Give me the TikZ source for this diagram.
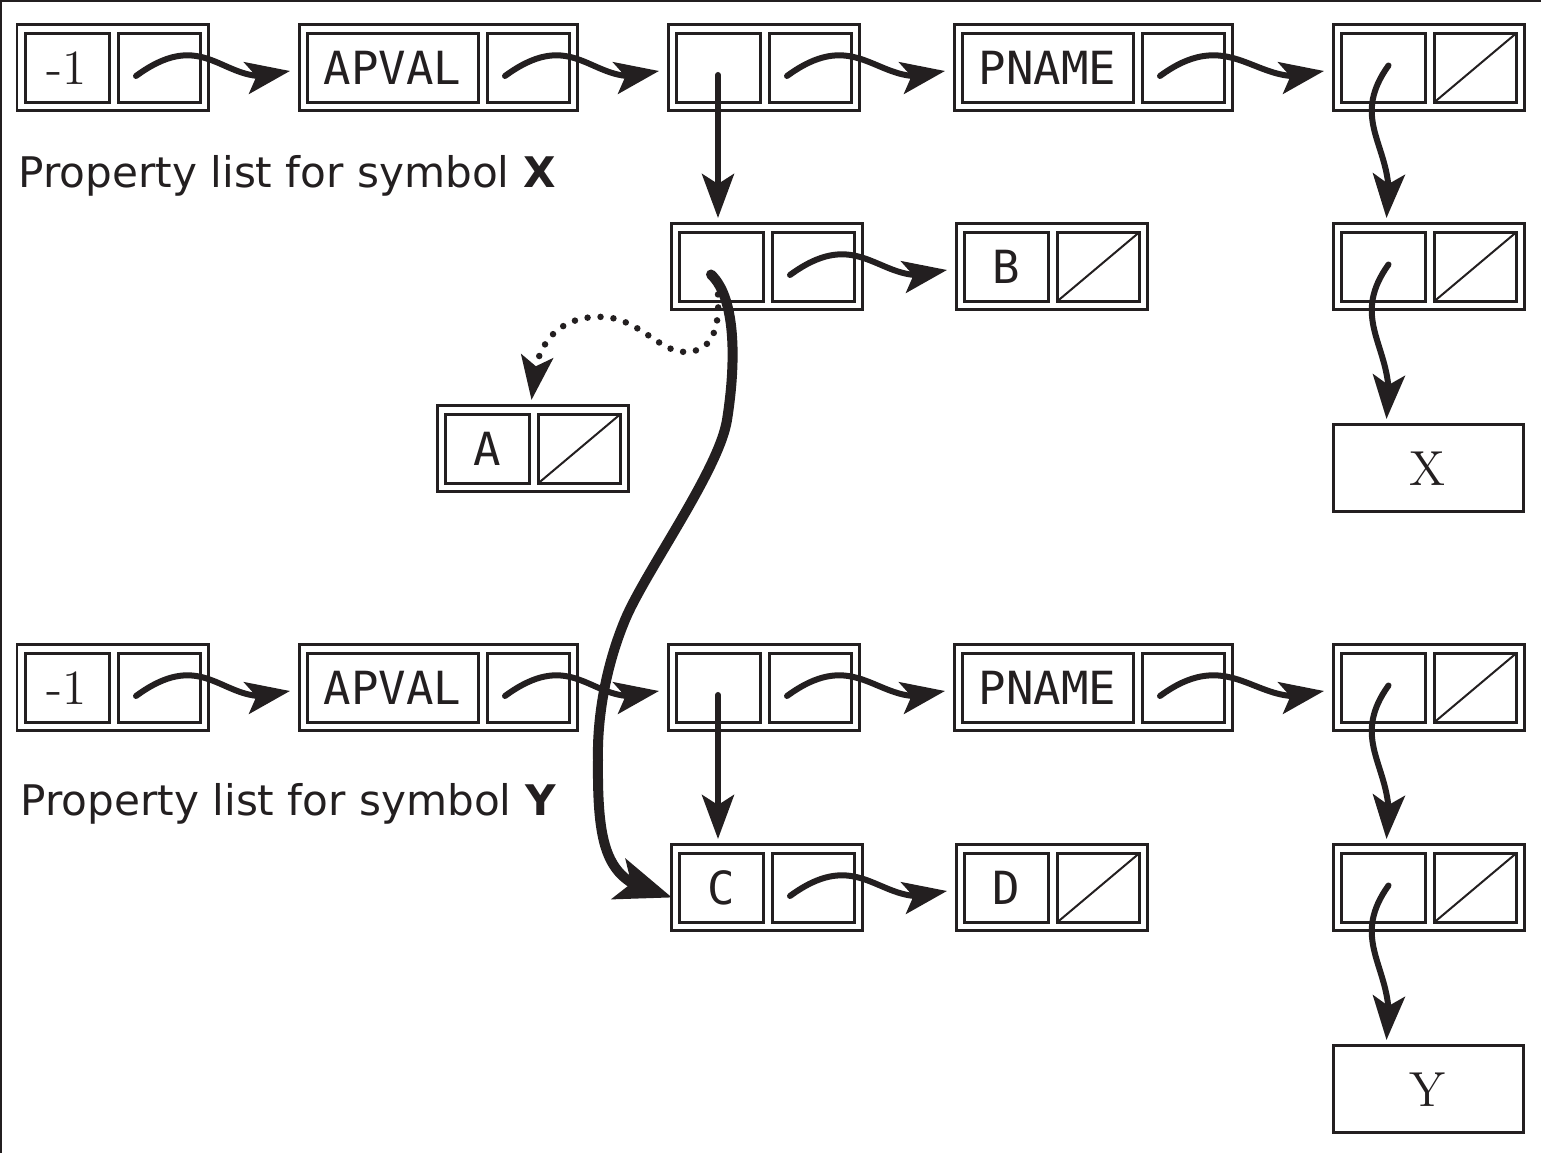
\documentclass[tikz,border=0pt]{standalone}
\usepackage{fontspec}
\setmonofont{DejaVu Sans Mono}
\newfontfamily\labelfont{DejaVu Sans}
\usetikzlibrary{arrows.meta, bending, calc, positioning}
\definecolor{Ink}{RGB}{35,31,32}

\tikzset{
  outerbox/.style={draw=Ink, line width=0.03cm, minimum height=0.86cm, inner sep=0pt, outer sep=0pt},
  innerbox/.style={draw=Ink, line width=0.03cm, minimum height=0.69cm, inner sep=0pt, outer sep=0pt,
    font=\ttfamily\fontsize{13}{15}\selectfont, text=Ink},
  nilslash/.style={draw=Ink, line width=0.02cm},
  ptr/.style={draw=Ink, line width=0.06cm, line cap=round, -{Stealth[length=0.44cm,width=0.32cm,inset=0.1cm,flex]}},
  bigptr/.style={draw=Ink, line width=0.1cm, line cap=round, -{Stealth[length=0.56cm,width=0.42cm,inset=0.13cm,flex]}},
  dotptr/.style={ptr, line width=0.065cm, dash pattern=on 0pt off 0.13cm},
  listlabel/.style={font=\labelfont\fontsize{12}{14}\selectfont, text=Ink, inner sep=0pt},
  symbox/.style={outerbox, minimum width=1.90cm, minimum height=0.87cm,
    font=\rmfamily\fontsize{14}{16}\selectfont, text=Ink}
}

% cons cell: name, north west corner, car width, car text
\newcommand{\conscell}[4]{%
  \node[outerbox, minimum width={#3+1.07cm}, anchor=north west] (#1) at (#2) {};
  \node[innerbox, minimum width=#3, anchor=west] (#1-car) at ([xshift=0.08cm]#1.west) {#4};
  \node[innerbox, minimum width=0.82cm, anchor=east] (#1-cdr) at ([xshift=-0.08cm]#1.east) {};
}

\begin{document}
\begin{tikzpicture}
  \useasboundingbox (0,-11.53) rectangle (15.41,0);
  \draw[Ink, line width=0.02cm] (0.01,-11.53) -- (0.01,-0.01) -- (15.41,-0.01);

  % Symbol X
  \conscell{xm1}{0.17,-0.25}{0.84cm}{\rmfamily\fontsize{14}{16}\selectfont -1}
  \conscell{xapval}{2.99,-0.25}{1.71cm}{APVAL}
  \conscell{xatom}{6.68,-0.25}{0.84cm}{}
  \conscell{xpname}{9.54,-0.25}{1.71cm}{PNAME}
  \conscell{xpn}{13.33,-0.25}{0.84cm}{}
  \conscell{xval}{6.71,-2.24}{0.84cm}{}
  \conscell{xb}{9.56,-2.24}{0.84cm}{B}
  \conscell{xnm}{13.33,-2.24}{0.84cm}{}
  \conscell{xa}{4.37,-4.06}{0.84cm}{A}
  \node[symbox, anchor=north west] (xsym) at (13.33,-4.25) {X};
  \node[listlabel, anchor=base west] (xlabel) at (0.18,-1.88) {Property list for symbol \textbf{X}};

  % Symbol Y
  \conscell{ym1}{0.17,-6.45}{0.84cm}{\rmfamily\fontsize{14}{16}\selectfont -1}
  \conscell{yapval}{2.99,-6.45}{1.71cm}{APVAL}
  \conscell{yatom}{6.68,-6.45}{0.84cm}{}
  \conscell{ypname}{9.54,-6.45}{1.71cm}{PNAME}
  \conscell{ypn}{13.33,-6.45}{0.84cm}{}
  \conscell{yval}{6.71,-8.45}{0.84cm}{C}
  \conscell{yd}{9.56,-8.45}{0.84cm}{D}
  \conscell{ynm}{13.33,-8.45}{0.84cm}{}
  \node[symbox, anchor=north west] (ysym) at (13.33,-10.46) {Y};
  \node[listlabel, anchor=base west] (ylabel) at (0.20,-8.16) {Property list for symbol \textbf{Y}};

  % NIL slashes
  \foreach \c in {xpn, xnm, xb, xa, ypn, ynm, yd}
    \draw[nilslash] (\c-cdr.south west) -- (\c-cdr.north east);

  % cdr pointers
  \foreach \src/\dst in {xm1/xapval, xapval/xatom, xatom/xpname, xpname/xpn, xval/xb,
                         ym1/yapval, yapval/yatom, yatom/ypname, ypname/ypn, yval/yd}
    \draw[ptr] ($(\src-cdr.center)+(-0.23,-0.08)$) .. controls +(0.75,0.55) and +(-0.65,-0.25)
      .. ($(\dst.west)+(-0.09,-0.03)$);

  % car pointers down the right column
  \foreach \src/\dst in {xpn/xnm, xnm/xsym, ypn/ynm, ynm/ysym}
    \draw[ptr] ($(\src-car.center)+(0.055,0.025)$) .. controls +(-0.43,-0.60) and +(0.14,0.68)
      .. ($(\src-car.center |- \dst.north)+(0.035,0.06)$);

  % value pointers
  \foreach \src/\dst in {xatom/xval, yatom/yval}
    \draw[ptr] ($(\src-car.center)+(0,-0.07)$) -- ($(\src-car.center |- \dst.north)+(0,0.06)$);

  % old value (dotted) and shared value (thick)
  \draw[dotptr] ($(xval-car.center)+(-0.04,-0.145)$)
    .. controls (7.22,-3.30) and (7.12,-3.52) .. (6.85,-3.52)
    .. controls (6.60,-3.52) and (6.40,-3.20) .. (6.05,-3.17)
    .. controls (5.65,-3.15) and (5.33,-3.35) .. ($(xa.north)+(-0.01,0.06)$);
  \draw[bigptr] ($(xval-car.center)+(-0.10,-0.075)$)
    .. controls (7.38,-3.00) and (7.35,-3.70) .. (7.27,-4.20)
    .. controls (7.19,-4.70) and (6.45,-5.72) .. (6.25,-6.20)
    .. controls (6.05,-6.68) and (5.97,-7.20) .. (5.98,-7.60)
    .. controls (5.97,-8.60) and (6.10,-8.84) .. ($(yval.west)+(0.01,-0.095)$);
\end{tikzpicture}
\end{document}
